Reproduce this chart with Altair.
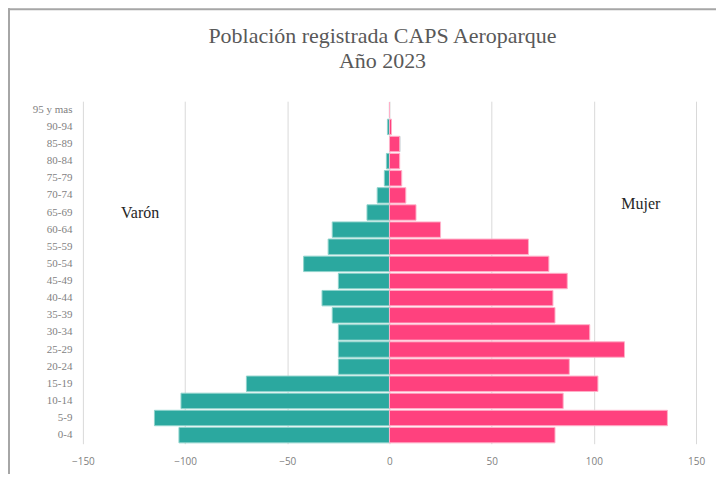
import altair as alt
import pandas as pd

ages = ["0-4", "5-9", "10-14", "15-19", "20-24", "25-29", "30-34", "35-39",
        "40-44", "45-49", "50-54", "55-59", "60-64", "65-69", "70-74",
        "75-79", "80-84", "85-89", "90-94", "95 y mas"]
varon = [103, 115, 102, 70, 25, 25, 25, 28, 33, 25, 42, 30, 28, 11, 6, 2.5, 1.5, 0, 1, 0]
mujer = [81, 136, 85, 102, 88, 115, 98, 81, 80, 87, 78, 68, 25, 13, 8, 6, 5, 5, 1, 0]
x_ticks = [-150, -100, -50, 0, 50, 100, 150]

rows = []
for a, v, m in zip(ages, varon, mujer):
    rows.append({"edad": a, "sexo": "Varón", "valor": -v})
    rows.append({"edad": a, "sexo": "Mujer", "valor": m})
df = pd.DataFrame(rows)

labels = pd.DataFrame({
    "texto": ["Varón", "Mujer"],
    "x": [-122, 123],
    "edad": ["65-69", "70-74"],
})

order = list(reversed(ages))

PW, PH = 614, 343
PL, PT = 75, 93

xscale = alt.Scale(domain=[-150, 150], nice=False)
yscale = alt.Scale(domain=order, paddingInner=0.1, paddingOuter=0.05)

x_axis = alt.Axis(values=x_ticks, title=None, domain=False, ticks=False,
                  grid=True, gridColor="#d9d9d9", labelColor="#7f7f7f",
                  labelFont="Open Sans", labelFontSize=10, labelPadding=13,
                  labelFlush=False)
y_axis = alt.Axis(title=None, domain=False, ticks=False, grid=False,
                  labelColor="#7f7f7f", labelFont="Liberation Serif",
                  labelFontSize=11, labelPadding=11)

bars = alt.Chart(df).mark_bar(strokeWidth=1).encode(
    x=alt.X("valor:Q", scale=xscale, axis=x_axis),
    y=alt.Y("edad:N", scale=yscale, sort=order, axis=y_axis),
    color=alt.Color("sexo:N", scale=alt.Scale(domain=["Varón", "Mujer"],
                                              range=["#2BA89F", "#FF417E"]), legend=None),
    stroke=alt.Stroke("sexo:N", scale=alt.Scale(domain=["Varón", "Mujer"],
                                                range=["#8fd3cc", "#ffb0c8"]), legend=None),
)

text_v = alt.Chart(labels).transform_filter(alt.datum.texto == "Varón").mark_text(
    font="Liberation Serif", fontSize=16, color="#262626"
).encode(x=alt.X("x:Q", scale=xscale, axis=x_axis),
         y=alt.Y("edad:N", scale=yscale, sort=order, axis=y_axis), text="texto:N")

text_m = alt.Chart(labels).transform_filter(alt.datum.texto == "Mujer").mark_text(
    font="Liberation Serif", fontSize=16, color="#262626", dy=9
).encode(x=alt.X("x:Q", scale=xscale, axis=x_axis),
         y=alt.Y("edad:N", scale=yscale, sort=order, axis=y_axis), text="texto:N")

frame_df = pd.DataFrame({"k": [0]})
frame_left = alt.Chart(frame_df).mark_rule(color="#a6a6a6", strokeWidth=2).encode(
    x=alt.value(-PL + 1), y=alt.value(-PT), y2=alt.value(PH + 40)
)
frame_top = alt.Chart(frame_df).mark_rule(color="#a6a6a6", strokeWidth=2).encode(
    x=alt.value(-PL), x2=alt.value(PW + 40), y=alt.value(-PT + 1)
)

chart = alt.layer(bars, text_v, text_m, frame_left, frame_top).properties(
    width=PW,
    height=PH,
    background="white",
    title=alt.TitleParams(
        text=["Población registrada CAPS Aeroparque", "Año 2023"],
        font="Liberation Serif", fontSize=22, fontWeight="normal", color="#595959",
        anchor="middle", dx=-7, offset=-66, lineHeight=25,
    ),
    autosize=alt.AutoSizeParams(type="none"),
    padding={"left": PL, "top": PT, "right": 20, "bottom": 30},
).configure_view(strokeWidth=0, stroke=None)

chart.save("out.html", embed_options={"renderer": "svg", "actions": False})
